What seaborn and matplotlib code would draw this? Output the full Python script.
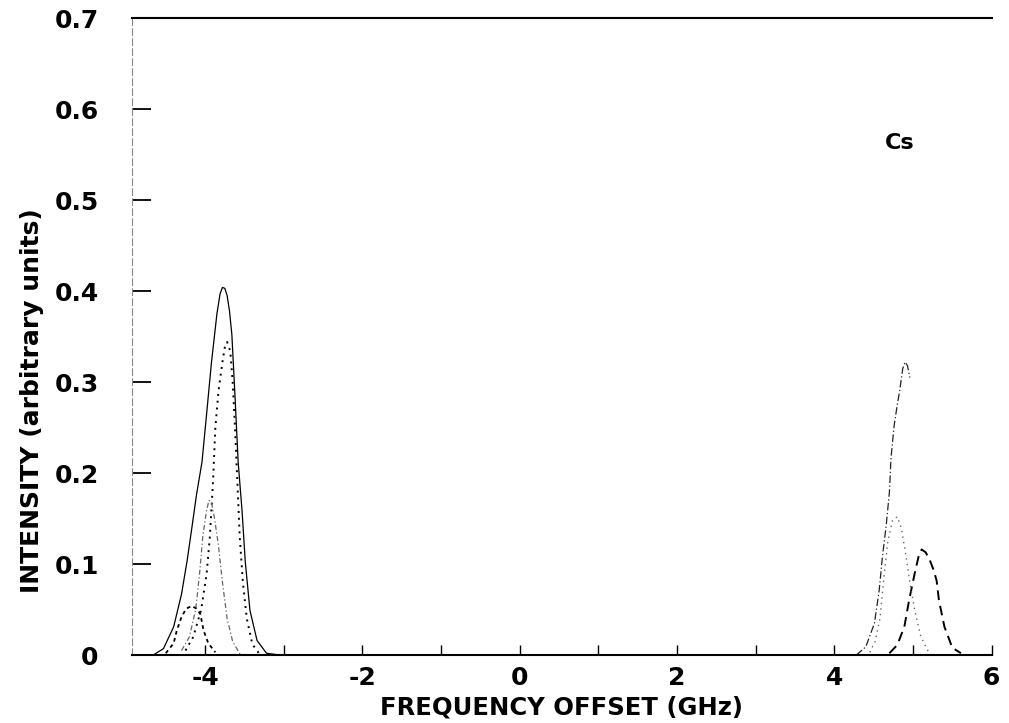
# Cs hyperfine spectrum, redrawn from a scanned figure
import matplotlib
matplotlib.use('Agg')
import matplotlib.pyplot as plt
import seaborn as sns
from matplotlib.ticker import MultipleLocator

# ---- data ----
# left group (around -3.8 GHz)
left_env_x = [-4.66, -4.53, -4.40, -4.30, -4.23, -4.17, -4.11, -4.04, -3.98, -3.92,
              -3.85, -3.81, -3.78, -3.75, -3.72, -3.69, -3.66, -3.62, -3.58, -3.53,
              -3.49, -3.43, -3.34, -3.22, -3.05]
left_env_y = [0.0, 0.007, 0.031, 0.067, 0.103, 0.139, 0.176, 0.212, 0.266, 0.321,
              0.375, 0.397, 0.404, 0.403, 0.395, 0.378, 0.352, 0.284, 0.212, 0.158,
              0.103, 0.049, 0.016, 0.002, 0.0]

left_dot_x = [-4.25, -4.15, -4.05, -3.98, -3.94, -3.90, -3.87, -3.83, -3.78, -3.75,
              -3.72, -3.68, -3.65, -3.62, -3.59, -3.56, -3.52, -3.47, -3.40, -3.30]
left_dot_y = [0.005, 0.02, 0.05, 0.09, 0.13, 0.19, 0.25, 0.29, 0.322, 0.338,
              0.344, 0.334, 0.30, 0.25, 0.19, 0.13, 0.08, 0.04, 0.012, 0.0]

left_dd_x = [-4.30, -4.20, -4.12, -4.07, -4.03, -3.98, -3.95, -3.92, -3.88, -3.83,
             -3.78, -3.72, -3.65, -3.55]
left_dd_y = [0.005, 0.02, 0.05, 0.09, 0.13, 0.16, 0.17, 0.168, 0.15, 0.12,
             0.08, 0.04, 0.015, 0.0]

left_small_x = [-4.50, -4.40, -4.36, -4.30, -4.24, -4.17, -4.11, -4.06, -4.02, -3.96, -3.87]
left_small_y = [0.002, 0.013, 0.027, 0.042, 0.051, 0.054, 0.051, 0.045, 0.027, 0.013, 0.003]

# right group (around +4.9 GHz)
right_env_x = [4.28, 4.40, 4.51, 4.57, 4.61, 4.66, 4.70, 4.72, 4.76, 4.80, 4.83,
               4.87, 4.90, 4.93, 4.96]
right_env_y = [0.0, 0.009, 0.035, 0.071, 0.107, 0.143, 0.179, 0.216, 0.252, 0.275, 0.29,
               0.315, 0.322, 0.318, 0.305]

right_dash_x = [4.70, 4.80, 4.89, 4.95, 5.02, 5.07, 5.11, 5.16, 5.21, 5.26, 5.30,
                5.33, 5.40, 5.50, 5.61]
right_dash_y = [0.002, 0.011, 0.031, 0.060, 0.089, 0.108, 0.116, 0.113, 0.105, 0.094, 0.082,
                0.060, 0.031, 0.008, 0.002]

right_dot_x = [4.45, 4.52, 4.58, 4.63, 4.68, 4.74, 4.80, 4.85, 4.90, 4.96, 5.02, 5.10, 5.20]
right_dot_y = [0.003, 0.015, 0.04, 0.085, 0.125, 0.148, 0.152, 0.14, 0.115, 0.08, 0.05, 0.02, 0.003]

x_ticks = [-4, -2, 0, 2, 4, 6]
y_ticks = [0, 0.1, 0.2, 0.3, 0.4, 0.5, 0.6, 0.7]
y_labels = ['0', '0.1', '0.2', '0.3', '0.4', '0.5', '0.6', '0.7']

# ---- plot ----
sns.set_style('white')
plt.rcParams['font.family'] = ['DejaVu Sans']
plt.rcParams['axes.unicode_minus'] = False
plt.rcParams['text.color'] = 'black'
plt.rcParams['axes.labelcolor'] = 'black'
plt.rcParams['xtick.color'] = 'black'
plt.rcParams['ytick.color'] = 'black'

fig = plt.figure(figsize=(10.09, 7.23), dpi=100)
ax = fig.add_axes([0.1308, 0.094, 0.852, 0.881])

sns.lineplot(x=left_env_x, y=left_env_y, ax=ax, color='black', lw=0.9)
sns.lineplot(x=left_dot_x, y=left_dot_y, ax=ax, color='black', lw=1.4, linestyle=(0, (1, 2.5)))
sns.lineplot(x=left_dd_x, y=left_dd_y, ax=ax, color='#666666', lw=0.9, linestyle=(0, (4, 2, 1, 2)))
sns.lineplot(x=left_small_x, y=left_small_y, ax=ax, color='black', lw=1.3, linestyle=(0, (2, 2)))

sns.lineplot(x=right_env_x, y=right_env_y, ax=ax, color='#222222', lw=0.9, linestyle=(0, (6, 2, 1, 2)))
sns.lineplot(x=right_dash_x, y=right_dash_y, ax=ax, color='black', lw=1.4, linestyle=(0, (5, 3)))
sns.lineplot(x=right_dot_x, y=right_dot_y, ax=ax, color='#666666', lw=1.0, linestyle=(0, (1, 3)))

ax.text(4.83, 0.563, 'Cs', fontsize=16, fontweight='bold', ha='center', va='center')

ax.set_xlim(-4.93, 6)
ax.set_ylim(0, 0.7)
ax.set_xticks(x_ticks)
ax.xaxis.set_minor_locator(MultipleLocator(1))
ax.set_yticks(y_ticks)
ax.set_yticklabels(y_labels)

ax.tick_params(axis='y', direction='in', length=14, width=1.3, pad=24,
               labelsize=18, left=True)
ax.tick_params(axis='x', which='both', direction='in', length=7, width=1.0, pad=8,
               labelsize=18, bottom=True)
for lab in ax.get_xticklabels() + ax.get_yticklabels():
    lab.set_fontweight('bold')

ax.spines['right'].set_visible(False)
ax.spines['top'].set_linewidth(1.5)
ax.spines['top'].set_color('black')
ax.spines['bottom'].set_linewidth(1.5)
ax.spines['bottom'].set_color('black')
ax.spines['left'].set_linewidth(0.8)
ax.spines['left'].set_color('#888888')
ax.spines['left'].set_linestyle((0, (6, 3)))

ax.set_xlabel('FREQUENCY OFFSET (GHz)', fontsize=17.5, fontweight='bold', labelpad=4)
ax.set_ylabel('INTENSITY (arbitrary units)', fontsize=18, fontweight='bold')
ax.yaxis.set_label_coords(-0.102, 0.40)

fig.savefig('out.png', dpi=100)
